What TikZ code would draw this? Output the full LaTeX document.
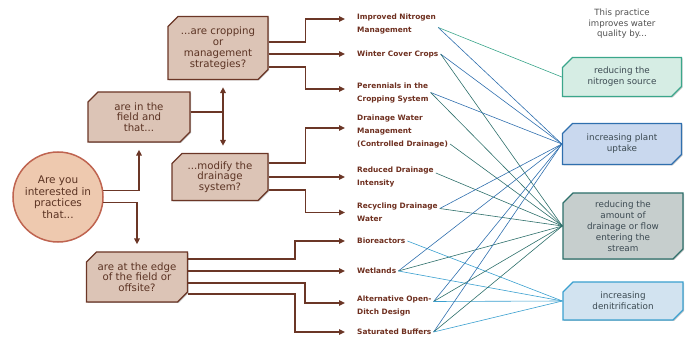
\documentclass[tikz,border=0pt]{standalone}
\usepackage{fontspec}
\setmainfont{DejaVu Sans}
\usetikzlibrary{arrows.meta,shapes.misc,shadows}

\definecolor{qline}{HTML}{6B3626}
\definecolor{qfill}{HTML}{DCC4B6}
\definecolor{qtext}{HTML}{5B3323}
\definecolor{askfill}{HTML}{EEC9AF}
\definecolor{askline}{HTML}{BF6450}
\definecolor{practext}{HTML}{6E2F1F}
\definecolor{headtext}{HTML}{4F4F4F}
\definecolor{efftext}{HTML}{3C4A52}
\definecolor{nsrc}{HTML}{3BA68B}
\definecolor{nfill}{HTML}{D6EDE4}
\definecolor{uptake}{HTML}{2F6FAE}
\definecolor{ufill}{HTML}{C9D8EE}
\definecolor{drain}{HTML}{2D6F6A}
\definecolor{dfill}{HTML}{C6CECD}
\definecolor{denit}{HTML}{3AA0CF}
\definecolor{dnfill}{HTML}{D2E3F0}

\tikzset{
  question/.style={chamfered rectangle, chamfered rectangle corners={north west,south east},
    chamfered rectangle sep=5pt, draw=qline, line width=1.3pt, fill=qfill, text=qtext,
    font=\fontsize{10.2}{10.8}\selectfont, align=center, inner sep=1pt,
    drop shadow={shadow xshift=1pt,shadow yshift=-1pt,opacity=0.5}},
  ask/.style={circle, draw=askline, line width=1.5pt, fill=askfill, text=qtext,
    minimum size=90pt, inner sep=0pt, align=center, font=\fontsize{10.5}{11.5}\selectfont},
  practice/.style={anchor=west, inner xsep=2pt, inner ysep=1pt, align=left, text=practext,
    font=\fontsize{7.4}{13}\bfseries\selectfont},
  effect/.style={chamfered rectangle, chamfered rectangle corners={north west,south east},
    chamfered rectangle sep=5pt, line width=1.3pt, text=efftext, align=center, inner sep=1pt,
    font=\fontsize{8.8}{11}\selectfont,
    drop shadow={shadow xshift=1pt,shadow yshift=-1pt,opacity=0.4}},
  flow/.style={draw=qline, line width=1.4pt, -{Triangle[length=6pt,width=5.5pt]}, shorten >=7pt},
  main/.style={flow, line width=2.6pt},
  tolabel/.style={shorten >=10pt},
  link/.style={line width=0.6pt}
}

\begin{document}
\begin{tikzpicture}[x=1pt,y=-1pt]
\useasboundingbox (0,0) rectangle (694,339);

% questions
\node[ask] (ask) at (58,197) {Are you\\interested in\\practices\\that...};
\node[question, minimum width=102pt, minimum height=50pt] (field) at (139,117) {are in the\\field and\\that...};
\node[question, minimum width=100pt, minimum height=63pt] (crop) at (218,48) {...are cropping\\or\\management\\strategies?};
\node[question, minimum width=96pt, minimum height=47pt] (modify) at (220,177) {...modify the\\drainage\\system?};
\node[question, minimum width=101pt, minimum height=50pt] (edge) at (137,277) {are at the edge\\of the field or\\offsite?};

% practices
\node[practice] (inm) at (355,23.5) {Improved Nitrogen\\Management};
\node[practice] (wcc) at (355,54) {Winter Cover Crops};
\node[practice] (pcs) at (355,92.5) {Perennials in the\\Cropping System};
\node[practice] (dwm) at (355,131) {Drainage Water\\Management\\(Controlled Drainage)};
\node[practice] (rdi) at (355,177) {Reduced Drainage\\Intensity};
\node[practice] (rdw) at (355,212.5) {Recycling Drainage\\Water};
\node[practice] (bio) at (355,241) {Bioreactors};
\node[practice] (wet) at (355,271) {Wetlands};
\node[practice] (aod) at (355,305.5) {Alternative Open-\\Ditch Design};
\node[practice] (sat) at (355,332) {Saturated Buffers};

% effects
\node[text=headtext, align=center, font=\fontsize{8.6}{10.5}\selectfont] (head) at (622,24) {This practice\\improves water\\quality by...};
\node[effect, draw=nsrc, fill=nfill, minimum width=119pt, minimum height=39pt] (nsrc) at (622,77) {reducing the\\nitrogen source};
\node[effect, draw=uptake, fill=ufill, minimum width=119pt, minimum height=41pt] (uptake) at (622,144) {increasing plant\\uptake};
\node[effect, draw=drain, fill=dfill, minimum width=120pt, minimum height=66pt] (drain) at (623,226) {reducing the\\amount of\\drainage or flow\\entering the\\stream};
\node[effect, draw=denit, fill=dnfill, minimum width=120pt, minimum height=38pt] (denit) at (623,301) {increasing\\denitrification};

% question arrows
\draw[flow] (ask.8) -| (field.south);
\draw[flow] (ask.-7) -| (edge.north);
\draw[flow] ([yshift=5pt]field.east) -| ([xshift=5pt]crop.south);
\draw[flow] ([yshift=5pt]field.east) -| ([xshift=3pt]modify.north);

% practice arrows
\draw[flow, tolabel] ([yshift=6pt]crop.east) -- ++(37,0) |- ([yshift=4.5pt]inm.west);
\draw[main, tolabel] ([yshift=-6pt]crop.east) -- (wcc.west);
\draw[flow, tolabel] ([yshift=-19pt]crop.east) -- ++(37,0) |- ([yshift=3.5pt]pcs.west);
\draw[flow, tolabel] ([yshift=14pt]modify.east) -- ++(37,0) |- ([yshift=3pt]dwm.west);
\draw[main, tolabel] (modify.east) -- (rdi.west);
\draw[flow, tolabel] ([yshift=-13pt]modify.east) -- ++(37,0) |- (rdw.west);
\draw[flow, tolabel] ([yshift=18pt]edge.east) -- ++(107,0) |- (bio.west);
\draw[main, tolabel] ([yshift=6pt]edge.east) -- (wet.west);
\draw[flow, tolabel] ([yshift=-6pt]edge.east) -- ++(117,0) |- ([yshift=2.5pt]aod.west);
\draw[flow, tolabel] ([yshift=-17pt]edge.east) -- ++(107,0) |- (sat.west);

% links
\coordinate (inm-o) at ([yshift=-4pt]inm.east);
\coordinate (wcc-o) at (wcc.east);
\coordinate (pcs-o) at (pcs.east);
\coordinate (dwm-o) at ([yshift=-13pt]dwm.east);
\coordinate (rdi-o) at ([yshift=4pt]rdi.east);
\coordinate (rdw-o) at ([yshift=4pt]rdw.east);
\coordinate (bio-o) at (bio.east);
\coordinate (wet-o) at (wet.east);
\coordinate (aod-o) at ([yshift=4pt]aod.east);
\coordinate (sat-o) at (sat.east);
\foreach \a/\b in {inm-o/nsrc, inm-o/uptake, wcc-o/uptake, wcc-o/drain, pcs-o/uptake, pcs-o/drain,
    dwm-o/drain, rdi-o/drain, rdw-o/uptake, rdw-o/drain, bio-o/denit,
    wet-o/uptake, wet-o/drain, wet-o/denit, aod-o/uptake, aod-o/drain, aod-o/denit,
    sat-o/uptake, sat-o/drain, sat-o/denit}
  \draw[link, draw=\b] (\a) -- (\b.west);
\end{tikzpicture}
\end{document}
